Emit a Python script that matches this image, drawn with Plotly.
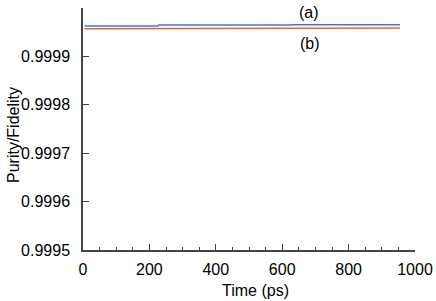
import plotly.graph_objects as go

# Data
time_a = [5, 12, 226, 228, 632, 634, 955]
purity_a = [0.999964, 0.999963, 0.999963, 0.999965, 0.999965, 0.9999655, 0.9999655]
time_b = [5, 226, 228, 955]
fidelity_b = [0.999957, 0.999957, 0.9999585, 0.9999585]

label_text = ["(a)", "(b)"]
label_x = [681, 684]
label_y = [0.999991, 0.999927]

x_tickvals = [0, 200, 400, 600, 800, 1000]
y_tickvals = [0.9995, 0.9996, 0.9997, 0.9998, 0.9999]

axis_color = "#444444"
font_family = "Liberation Sans, Arial, sans-serif"
fs = 16

fig = go.Figure()
fig.add_trace(go.Scatter(x=time_a, y=purity_a, mode="lines",
                         line=dict(color="#4a74d4", width=1.5), showlegend=False))
fig.add_trace(go.Scatter(x=time_b, y=fidelity_b, mode="lines",
                         line=dict(color="#e2692c", width=1.5), showlegend=False))

for t, x, y in zip(label_text, label_x, label_y):
    fig.add_annotation(x=x, y=y, text=t, showarrow=False,
                       font=dict(size=fs, color="black", family=font_family))

# axis titles as paper annotations
fig.add_annotation(text="Time (ps)", xref="paper", yref="paper",
                   x=(255 - 83) / 332, y=-(290 - 250) / 242, showarrow=False,
                   xanchor="center", yanchor="middle",
                   font=dict(size=fs, color="black", family=font_family))
fig.add_annotation(text="Purity/Fidelity", xref="paper", yref="paper",
                   x=-(83 - 13) / 332, y=(250 - 135) / 242, showarrow=False,
                   xanchor="center", yanchor="middle", textangle=-90,
                   font=dict(size=fs, color="black", family=font_family))

fig.update_layout(
    width=436, height=301,
    margin=dict(l=83, r=21, t=8, b=51),
    paper_bgcolor="white", plot_bgcolor="white",
    font=dict(family=font_family, size=fs, color="black"),
    xaxis=dict(range=[0, 1000], tickvals=x_tickvals, ticks="inside", ticklen=6,
               tickwidth=1.2, tickcolor=axis_color, showline=True, linecolor=axis_color,
               linewidth=1.5, showgrid=False, zeroline=False, automargin=False,
               minor=dict(dtick=50, ticks="inside", ticklen=3, tickcolor=axis_color, tickwidth=1),
               ticklabelstandoff=4),
    yaxis=dict(range=[0.9995, 1.0], tickvals=y_tickvals, tickformat=".4f",
               ticks="inside", ticklen=6, tickwidth=1.2, tickcolor=axis_color,
               showline=True, linecolor=axis_color, linewidth=1.5, showgrid=False,
               zeroline=False, automargin=False, ticklabelstandoff=8),
)

fig.write_html("out.html", config={"displayModeBar": False},
               post_script="document.body.style.margin='0';document.body.style.overflow='hidden';")
